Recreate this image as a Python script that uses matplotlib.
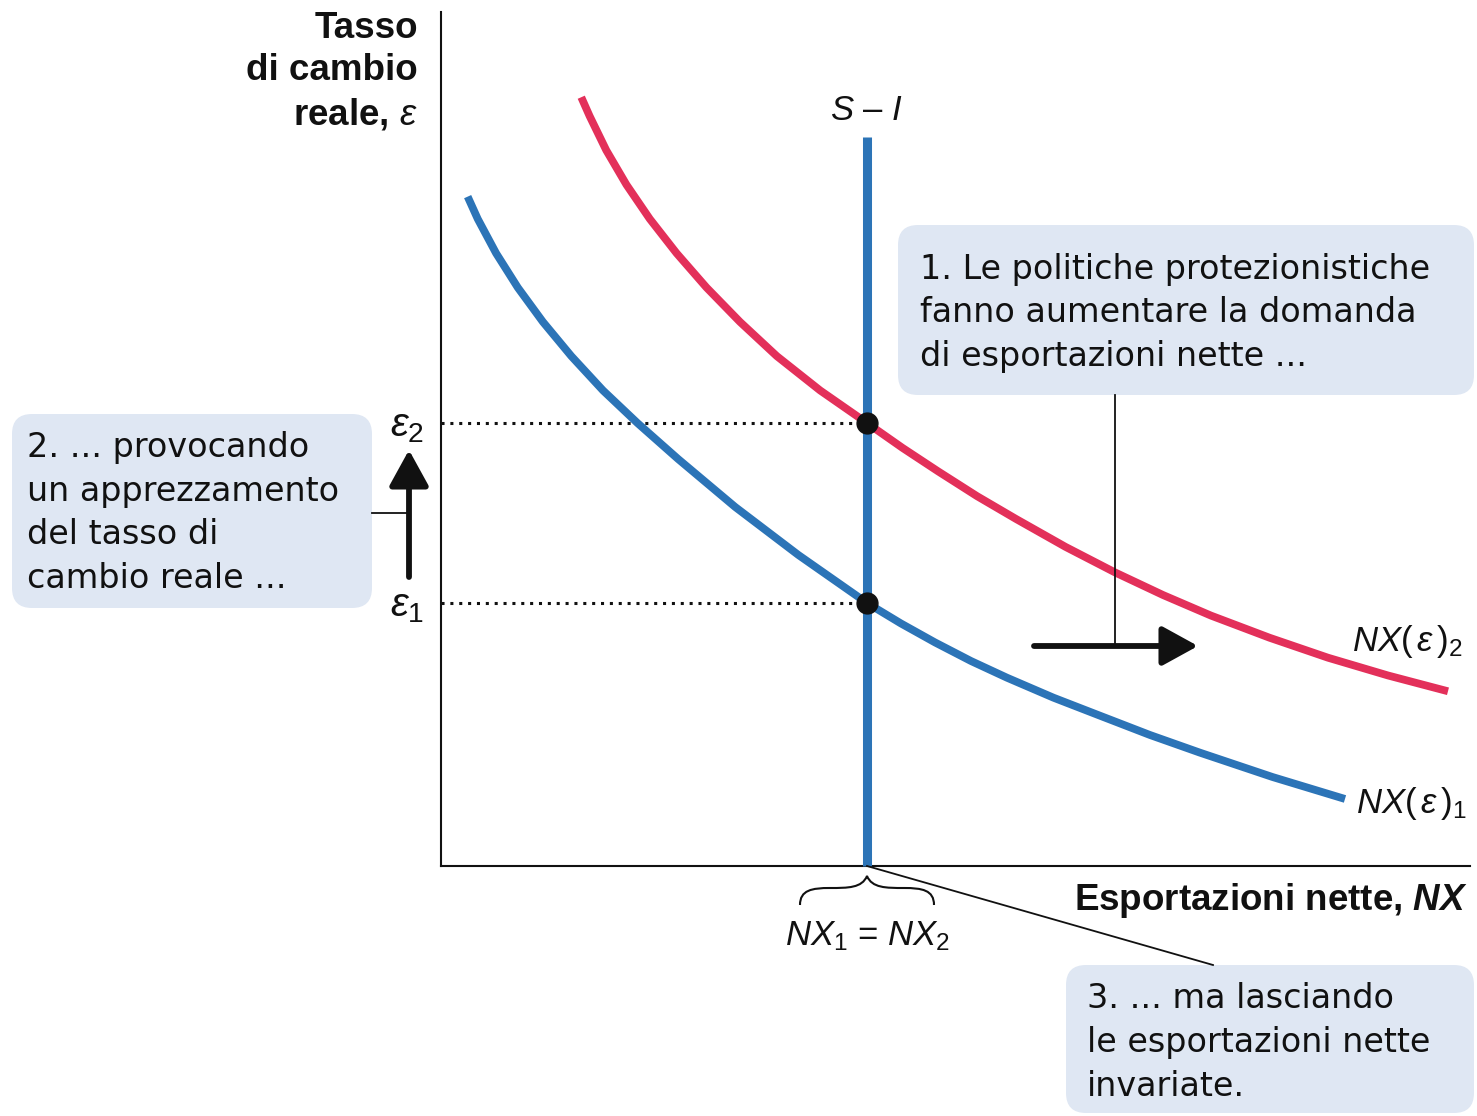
"""Protectionism in a small open economy: NX schedule shifts, S - I fixed."""

import matplotlib
matplotlib.use('Agg')
import matplotlib.pyplot as plt
from matplotlib.patches import FancyBboxPatch, PathPatch
from matplotlib.path import Path

W, H = 1477, 1116

# net exports schedules, chart units (NX across 0-100, epsilon up 0-100)
nx1_x = [2.59, 3.57, 5.35, 7.46, 9.90, 12.66, 15.74, 19.09, 23.04, 28.59,
         34.73, 41.40, 44.70, 48.01, 51.51, 55.00, 59.52, 64.04, 68.90,
         73.76, 80.81, 87.85]
nx1_y = [78.38, 75.77, 71.76, 67.74, 63.72, 59.71, 55.69, 51.87, 47.66,
         42.04, 36.42, 30.80, 28.40, 26.18, 24.00, 22.05, 19.71, 17.60,
         15.34, 13.27, 10.42, 7.85]
nx2_x = [13.63, 14.44, 16.06, 18.02, 20.29, 22.89, 25.80, 29.05, 32.63,
         36.84, 41.40, 44.85, 48.30, 52.09, 55.88, 60.69, 65.50, 70.17,
         74.83, 80.52, 86.20, 92.03, 97.86]
nx2_y = [90.02, 87.82, 83.81, 79.78, 75.77, 71.76, 67.74, 63.72, 59.71,
         55.69, 51.87, 48.96, 46.22, 43.31, 40.64, 37.37, 34.38, 31.73,
         29.32, 26.73, 24.39, 22.31, 20.46]

# saving minus investment (vertical), and the two equilibria
s_minus_i = 41.4
s_minus_i_top = 85.4
eps_levels = [30.80, 51.87]
eps_labels = [r'$\varepsilon_1$', r'$\varepsilon_2$']

box_texts = {
    'shift': ['1. Le politiche protezionistiche',
              'fanno aumentare la domanda',
              'di esportazioni nette ...'],
    'eps': ['2. ... provocando',
            'un apprezzamento',
            'del tasso di',
            'cambio reale ...'],
    'nx': ['3. ... ma lasciando',
           'le esportazioni nette',
           'invariate.'],
}

BLUE = '#2c74b7'
RED = '#e3305a'
BOX = '#dfe7f3'
INK = '#111111'

plt.rcParams['font.family'] = ['DejaVu Sans']
plt.rcParams['mathtext.fontset'] = 'custom'
plt.rcParams['mathtext.rm'] = 'Liberation Sans'
plt.rcParams['mathtext.it'] = 'Liberation Sans:italic'
plt.rcParams['mathtext.bf'] = 'Liberation Sans:bold:italic'

fig = plt.figure(figsize=(W / 100, H / 100), dpi=100)

# chart area
ax = fig.add_axes([441 / W, (H - 866) / H, 1029 / W, 854 / H])
ax.set_xlim(0, 100)
ax.set_ylim(0, 100)
ax.patch.set_alpha(0)
for side in ('top', 'right'):
    ax.spines[side].set_visible(False)
for side in ('left', 'bottom'):
    ax.spines[side].set_linewidth(1.5)
    ax.spines[side].set_color(INK)
ax.set_xticks([])
ax.set_yticks([])

for lvl in eps_levels:
    ax.plot([0, s_minus_i], [lvl, lvl], color=INK, lw=2.2,
            dashes=(1, 1.9), dash_capstyle='butt', zorder=2)

ax.plot([s_minus_i, s_minus_i], [0, s_minus_i_top], color=BLUE, lw=6.5,
        solid_capstyle='butt', zorder=3, clip_on=False)
ax.plot(nx1_x, nx1_y, color=BLUE, lw=5.6, solid_capstyle='butt',
        solid_joinstyle='round', zorder=3)
ax.plot(nx2_x, nx2_y, color=RED, lw=5.6, solid_capstyle='butt',
        solid_joinstyle='round', zorder=3)
ax.plot([s_minus_i] * 2, eps_levels, 'o', color=INK, ms=15, zorder=4)

# overlay in pixel units for labels and callouts
ann = fig.add_axes([0, 0, 1, 1])
ann.set_xlim(0, W)
ann.set_ylim(H, 0)
ann.axis('off')
ann.patch.set_alpha(0)

bold = dict(fontsize=26.5, fontweight='bold', family='Liberation Sans',
            color=INK)
ann.text(418, 28, 'Tasso', ha='right', va='center', **bold)
ann.text(418, 71, 'di cambio', ha='right', va='center', **bold)
ann.text(418, 114, r'reale, $\varepsilon$', ha='right', va='center', **bold)
ann.text(1468, 901, r'Esportazioni nette, $\mathbf{NX}$', ha='right',
         va='center', **bold)

plain = dict(fontsize=25, family='Liberation Sans', color=INK)
ann.text(867, 110, r'$S$ – $I$', ha='center', va='center', **plain)
ann.text(1352, 641, r'$NX(\,\varepsilon\,)_2$', ha='left', va='center',
         **plain)
ann.text(1356, 804, r'$NX(\,\varepsilon\,)_1$', ha='left', va='center',
         **plain)
ann.text(867, 936, r'$NX_1$ = $NX_2$', ha='center', va='center', **plain)

for lbl, py in zip(eps_labels, [605, 425]):
    ann.text(407, py, lbl, ha='center', va='center', fontsize=29, color=INK)

# curly brace under the S - I line
brace = Path(
    [(800, 905), (800, 890), (812, 888), (830, 888),
     (848, 888), (862, 888), (867, 876),
     (872, 888), (886, 888), (904, 888),
     (922, 888), (934, 890), (934, 905)],
    [Path.MOVETO, Path.CURVE4, Path.CURVE4, Path.CURVE4,
     Path.CURVE4, Path.CURVE4, Path.CURVE4,
     Path.CURVE4, Path.CURVE4, Path.CURVE4,
     Path.CURVE4, Path.CURVE4, Path.CURVE4])
ann.add_patch(PathPatch(brace, fill=False, lw=1.5, ec=INK))

# callout boxes
boxes = {
    'shift': (898, 225, 1474, 395, 920, [279, 322, 366]),
    'eps': (12, 414, 372, 608, 27, [457, 501, 544, 588]),
    'nx': (1066, 965, 1474, 1113, 1087, [1008, 1052, 1096]),
}
for key, (x0, y0, x1, y1, tx, baselines) in boxes.items():
    ann.add_patch(FancyBboxPatch(
        (x0, y0), x1 - x0, y1 - y0,
        boxstyle='round,pad=0,rounding_size=20',
        fc=BOX, ec='none', zorder=1))
    for line, by in zip(box_texts[key], baselines):
        ann.text(tx, by, line, ha='left', va='baseline', fontsize=24,
                 color=INK, zorder=2)

# leader lines
ann.plot([1115, 1115], [395, 646], color=INK, lw=1.3)
ann.plot([372, 408], [513, 513], color=INK, lw=1.3)
ann.plot([867, 1213], [866, 965], color=INK, lw=1.3)

# shift arrows
head = '-|>,head_length=1.0,head_width=0.55'
ann.annotate('', xy=(1198, 646), xytext=(1034, 646),
             arrowprops=dict(arrowstyle=head, lw=4.2, color=INK,
                             mutation_scale=22, shrinkA=0, shrinkB=0))
ann.annotate('', xy=(409, 450), xytext=(409, 577),
             arrowprops=dict(arrowstyle=head, lw=4.2, color=INK,
                             mutation_scale=22, shrinkA=0, shrinkB=0))

fig.savefig('out.png', dpi=100)
